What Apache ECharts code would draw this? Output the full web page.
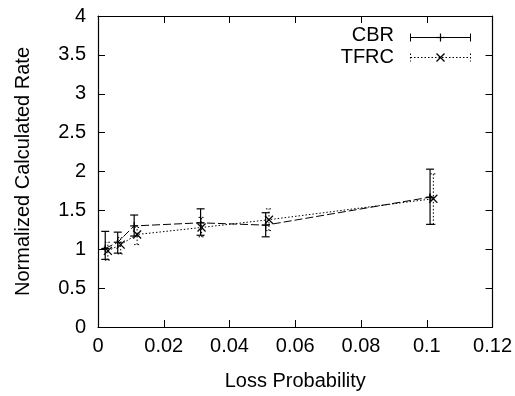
<!DOCTYPE html>
<html><head><meta charset="utf-8">
<script src="https://cdn.jsdelivr.net/npm/echarts@6/dist/echarts.min.js"></script>
<style>html,body{margin:0;padding:0;background:#fff}#c{width:515px;height:396px}</style>
</head><body><div id="c"></div>
<script>
// ---- data ----
const cbrLoss = [0.0022, 0.006, 0.011, 0.0312, 0.051, 0.101];
const cbrRate = [1.01, 1.09, 1.30, 1.34, 1.31, 1.67];
const cbrLow  = [0.87, 0.95, 1.17, 1.18, 1.16, 1.32];
const cbrHigh = [1.23, 1.22, 1.44, 1.52, 1.47, 2.03];

const tfrcLoss = [0.003, 0.0069, 0.0119, 0.0315, 0.052, 0.102];
const tfrcRate = [0.98, 1.06, 1.19, 1.28, 1.38, 1.65];
const tfrcLow  = [0.86, 0.94, 1.06, 1.16, 1.24, 1.32];
const tfrcHigh = [1.09, 1.15, 1.28, 1.41, 1.52, 1.97];

const seriesNames = ['CBR', 'TFRC'];
const xTicks = ['0', '0.02', '0.04', '0.06', '0.08', '0.1', '0.12'];
const yTicks = ['0', '0.5', '1', '1.5', '2', '2.5', '3', '3.5', '4'];
const xTitle = 'Loss Probability';
const yTitle = 'Normalized Calculated Rate';

// ---- build ----
const FONT = 'Liberation Sans, Arial, Helvetica, sans-serif';
const FS = 20;
const cbrData = cbrLoss.map((x, i) => [x, cbrRate[i], cbrLow[i], cbrHigh[i]]);
const tfrcData = tfrcLoss.map((x, i) => [x, tfrcRate[i], tfrcLow[i], tfrcHigh[i]]);

function errItem(kind) {
  return function (params, api) {
    const c = api.coord([api.value(0), api.value(1)]);
    const lo = api.coord([api.value(0), api.value(2)]);
    const hi = api.coord([api.value(0), api.value(3)]);
    const dotted = kind === 'x';
    const st = {stroke: '#000', lineWidth: dotted ? 1 : 1.2, lineDash: dotted ? [1.5, 2] : null};
    const cw = dotted ? 3 : 4;
    const m = 4;
    const children = [
      {type: 'line', shape: {x1: c[0], y1: lo[1], x2: c[0], y2: hi[1]}, style: st},
      {type: 'line', shape: {x1: c[0] - cw, y1: lo[1], x2: c[0] + cw, y2: lo[1]}, style: st},
      {type: 'line', shape: {x1: c[0] - cw, y1: hi[1], x2: c[0] + cw, y2: hi[1]}, style: st}
    ];
    const ms = {stroke: '#000', lineWidth: 1.2};
    if (kind === '+') {
      children.push({type: 'line', shape: {x1: c[0] - m, y1: c[1], x2: c[0] + m, y2: c[1]}, style: ms});
      children.push({type: 'line', shape: {x1: c[0], y1: c[1] - m, x2: c[0], y2: c[1] + m}, style: ms});
    } else {
      children.push({type: 'line', shape: {x1: c[0] - m, y1: c[1] - m, x2: c[0] + m, y2: c[1] + m}, style: ms});
      children.push({type: 'line', shape: {x1: c[0] - m, y1: c[1] + m, x2: c[0] + m, y2: c[1] - m}, style: ms});
    }
    return {type: 'group', children};
  };
}

const axisCommon = {
  axisLine: {show: true, onZero: false, lineStyle: {color: '#000', width: 1.2}},
  axisTick: {show: true, inside: true, length: 7, lineStyle: {color: '#000', width: 1}},
  splitLine: {show: false}
};
const labelStyle = {color: '#000', fontFamily: FONT, fontSize: FS};

const chart = echarts.init(document.getElementById('c'), null, {renderer: 'canvas'});
chart.setOption({
  animation: false,
  backgroundColor: '#fff',
  grid: {left: 98, right: 21, top: 16, bottom: 65},
  xAxis: [
    Object.assign({type: 'value', position: 'bottom', min: 0, max: 0.12, interval: 0.02,
      name: xTitle, nameLocation: 'middle', nameGap: 44,
      nameTextStyle: labelStyle,
      axisLabel: Object.assign({margin: 9, formatter: (v) => xTicks[Math.round(v / 0.02)]}, labelStyle)}, axisCommon),
    Object.assign({type: 'value', position: 'top', min: 0, max: 0.12, interval: 0.02,
      axisLabel: {show: false}}, axisCommon)
  ],
  yAxis: [
    Object.assign({type: 'value', position: 'left', min: 0, max: 4, interval: 0.5,
      name: yTitle, nameLocation: 'middle', nameGap: 65, nameRotate: 90,
      nameTextStyle: labelStyle,
      axisLabel: Object.assign({margin: 12, formatter: (v) => yTicks[Math.round(v / 0.5)]}, labelStyle)}, axisCommon),
    Object.assign({type: 'value', position: 'right', min: 0, max: 4, interval: 0.5,
      axisLabel: {show: false}}, axisCommon)
  ],
  series: [
    {name: seriesNames[0], type: 'line', data: cbrData.map(d => [d[0], d[1]]), symbol: 'none',
      lineStyle: {color: '#000', width: 1, type: [8, 3]}},
    {name: seriesNames[1], type: 'line', data: tfrcData.map(d => [d[0], d[1]]), symbol: 'none',
      lineStyle: {color: '#000', width: 1, type: [1.5, 2]}},
    {name: seriesNames[0] + ' err', type: 'custom', data: cbrData, renderItem: errItem('+'),
      encode: {x: 0, y: [1, 2, 3]}},
    {name: seriesNames[1] + ' err', type: 'custom', data: tfrcData, renderItem: errItem('x'),
      encode: {x: 0, y: [1, 2, 3]}}
  ],
  graphic: [
    {type: 'text', right: 515 - 394, top: 25, style: {text: seriesNames[0], font: FS + 'px ' + FONT, fill: '#000', textAlign: 'right'}},
    {type: 'text', right: 515 - 394, top: 47, style: {text: seriesNames[1], font: FS + 'px ' + FONT, fill: '#000', textAlign: 'right'}},
    {type: 'group', left: 408, top: 31, children: [
      {type: 'line', shape: {x1: 0, y1: 5, x2: 60, y2: 5}, style: {stroke: '#000', lineWidth: 1}},
      {type: 'line', shape: {x1: 0, y1: 1, x2: 0, y2: 9}, style: {stroke: '#000', lineWidth: 1}},
      {type: 'line', shape: {x1: 60, y1: 1, x2: 60, y2: 9}, style: {stroke: '#000', lineWidth: 1}},
      {type: 'line', shape: {x1: 26, y1: 5, x2: 34, y2: 5}, style: {stroke: '#000', lineWidth: 1.2}},
      {type: 'line', shape: {x1: 30, y1: 1, x2: 30, y2: 9}, style: {stroke: '#000', lineWidth: 1.2}}
    ]},
    {type: 'group', left: 408, top: 51, children: [
      {type: 'line', shape: {x1: 0, y1: 5, x2: 60, y2: 5}, style: {stroke: '#000', lineWidth: 1, lineDash: [1.5, 2]}},
      {type: 'line', shape: {x1: 0, y1: 1, x2: 0, y2: 9}, style: {stroke: '#000', lineWidth: 1, lineDash: [1.5, 2]}},
      {type: 'line', shape: {x1: 60, y1: 1, x2: 60, y2: 9}, style: {stroke: '#000', lineWidth: 1, lineDash: [1.5, 2]}},
      {type: 'line', shape: {x1: 26, y1: 1, x2: 34, y2: 9}, style: {stroke: '#000', lineWidth: 1.2}},
      {type: 'line', shape: {x1: 26, y1: 9, x2: 34, y2: 1}, style: {stroke: '#000', lineWidth: 1.2}}
    ]}
  ]
});
</script></body></html>
